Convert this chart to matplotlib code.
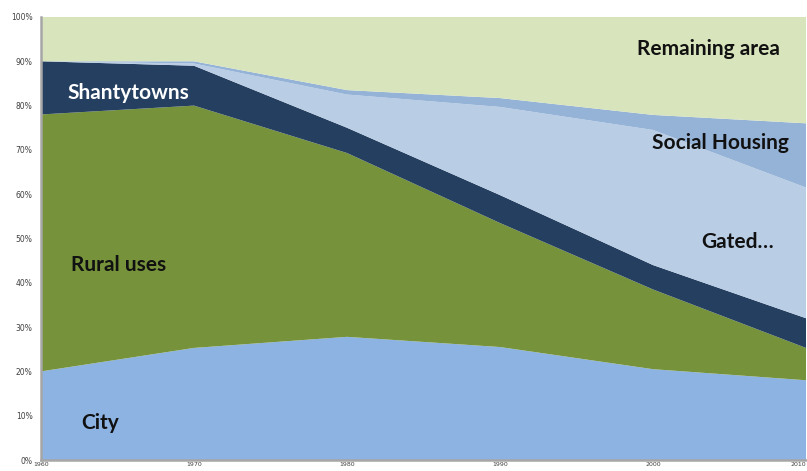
import matplotlib
matplotlib.use("Agg")
import matplotlib.pyplot as plt
import numpy as np

years = [1960, 1970, 1980, 1990, 2000, 2010]

# share of the area (%) per layer, bottom to top
city = [20.0, 25.3, 27.8, 25.5, 20.5, 18.0]
rural = [58.0, 54.7, 41.5, 28.0, 18.0, 7.3]
shanty = [12.0, 9.0, 5.7, 6.3, 5.5, 6.7]
gated = [0.0, 0.5, 7.5, 19.9, 30.5, 29.5]
social = [0.0, 0.5, 1.0, 2.0, 3.4, 14.5]
remaining = [10.0, 10.0, 16.5, 18.3, 22.1, 24.0]

layer_names = ["City", "Rural uses", "Shantytowns", "Gated...", "Social Housing", "Remaining area"]
colors = ["#8DB3E2", "#76933C", "#243F60", "#B9CDE5", "#95B3D7", "#D8E4BC"]

W, H = 807, 471
fig = plt.figure(figsize=(W / 100, H / 100), dpi=100)
ax = fig.add_axes([41 / W, 1 - 460 / H, 765 / W, 443 / H])

ax.stackplot(years, city, rural, shanty, gated, social, remaining,
             colors=colors, linewidth=0)

ax.set_xlim(1960, 2010)
ax.set_ylim(0, 100)
ax.set_yticks(np.arange(0, 101, 10))
ax.set_yticklabels(["%d%%" % v for v in range(0, 101, 10)])
ax.set_xticks(years)
ax.tick_params(length=0, labelcolor="#404040")
ax.tick_params(axis="y", pad=6, labelsize=5.5)
ax.tick_params(axis="x", pad=1.5, labelsize=4.5)
# last year label sits on the right edge, keep it inside the picture
ax.get_xticklabels()[-1].set_horizontalalignment("right")

for s in ["top", "right"]:
    ax.spines[s].set_visible(False)
for s in ["left", "bottom"]:
    ax.spines[s].set_color("#A6A6A6")
    ax.spines[s].set_linewidth(1.8)


def label(txt, x, y, color="#111111"):
    fig.text(x / W, 1 - y / H, txt, ha="left", va="center", fontsize=15,
             fontweight="bold", family="Lato", color=color)


label("Remaining area", 637, 49)
label("Shantytowns", 67, 93, color="white")
label("Social Housing", 652, 143)
label("Gated\u2026", 701, 242)
label("Rural uses", 71, 265)
label("City", 81, 423)

fig.savefig("out.png", dpi=100)
